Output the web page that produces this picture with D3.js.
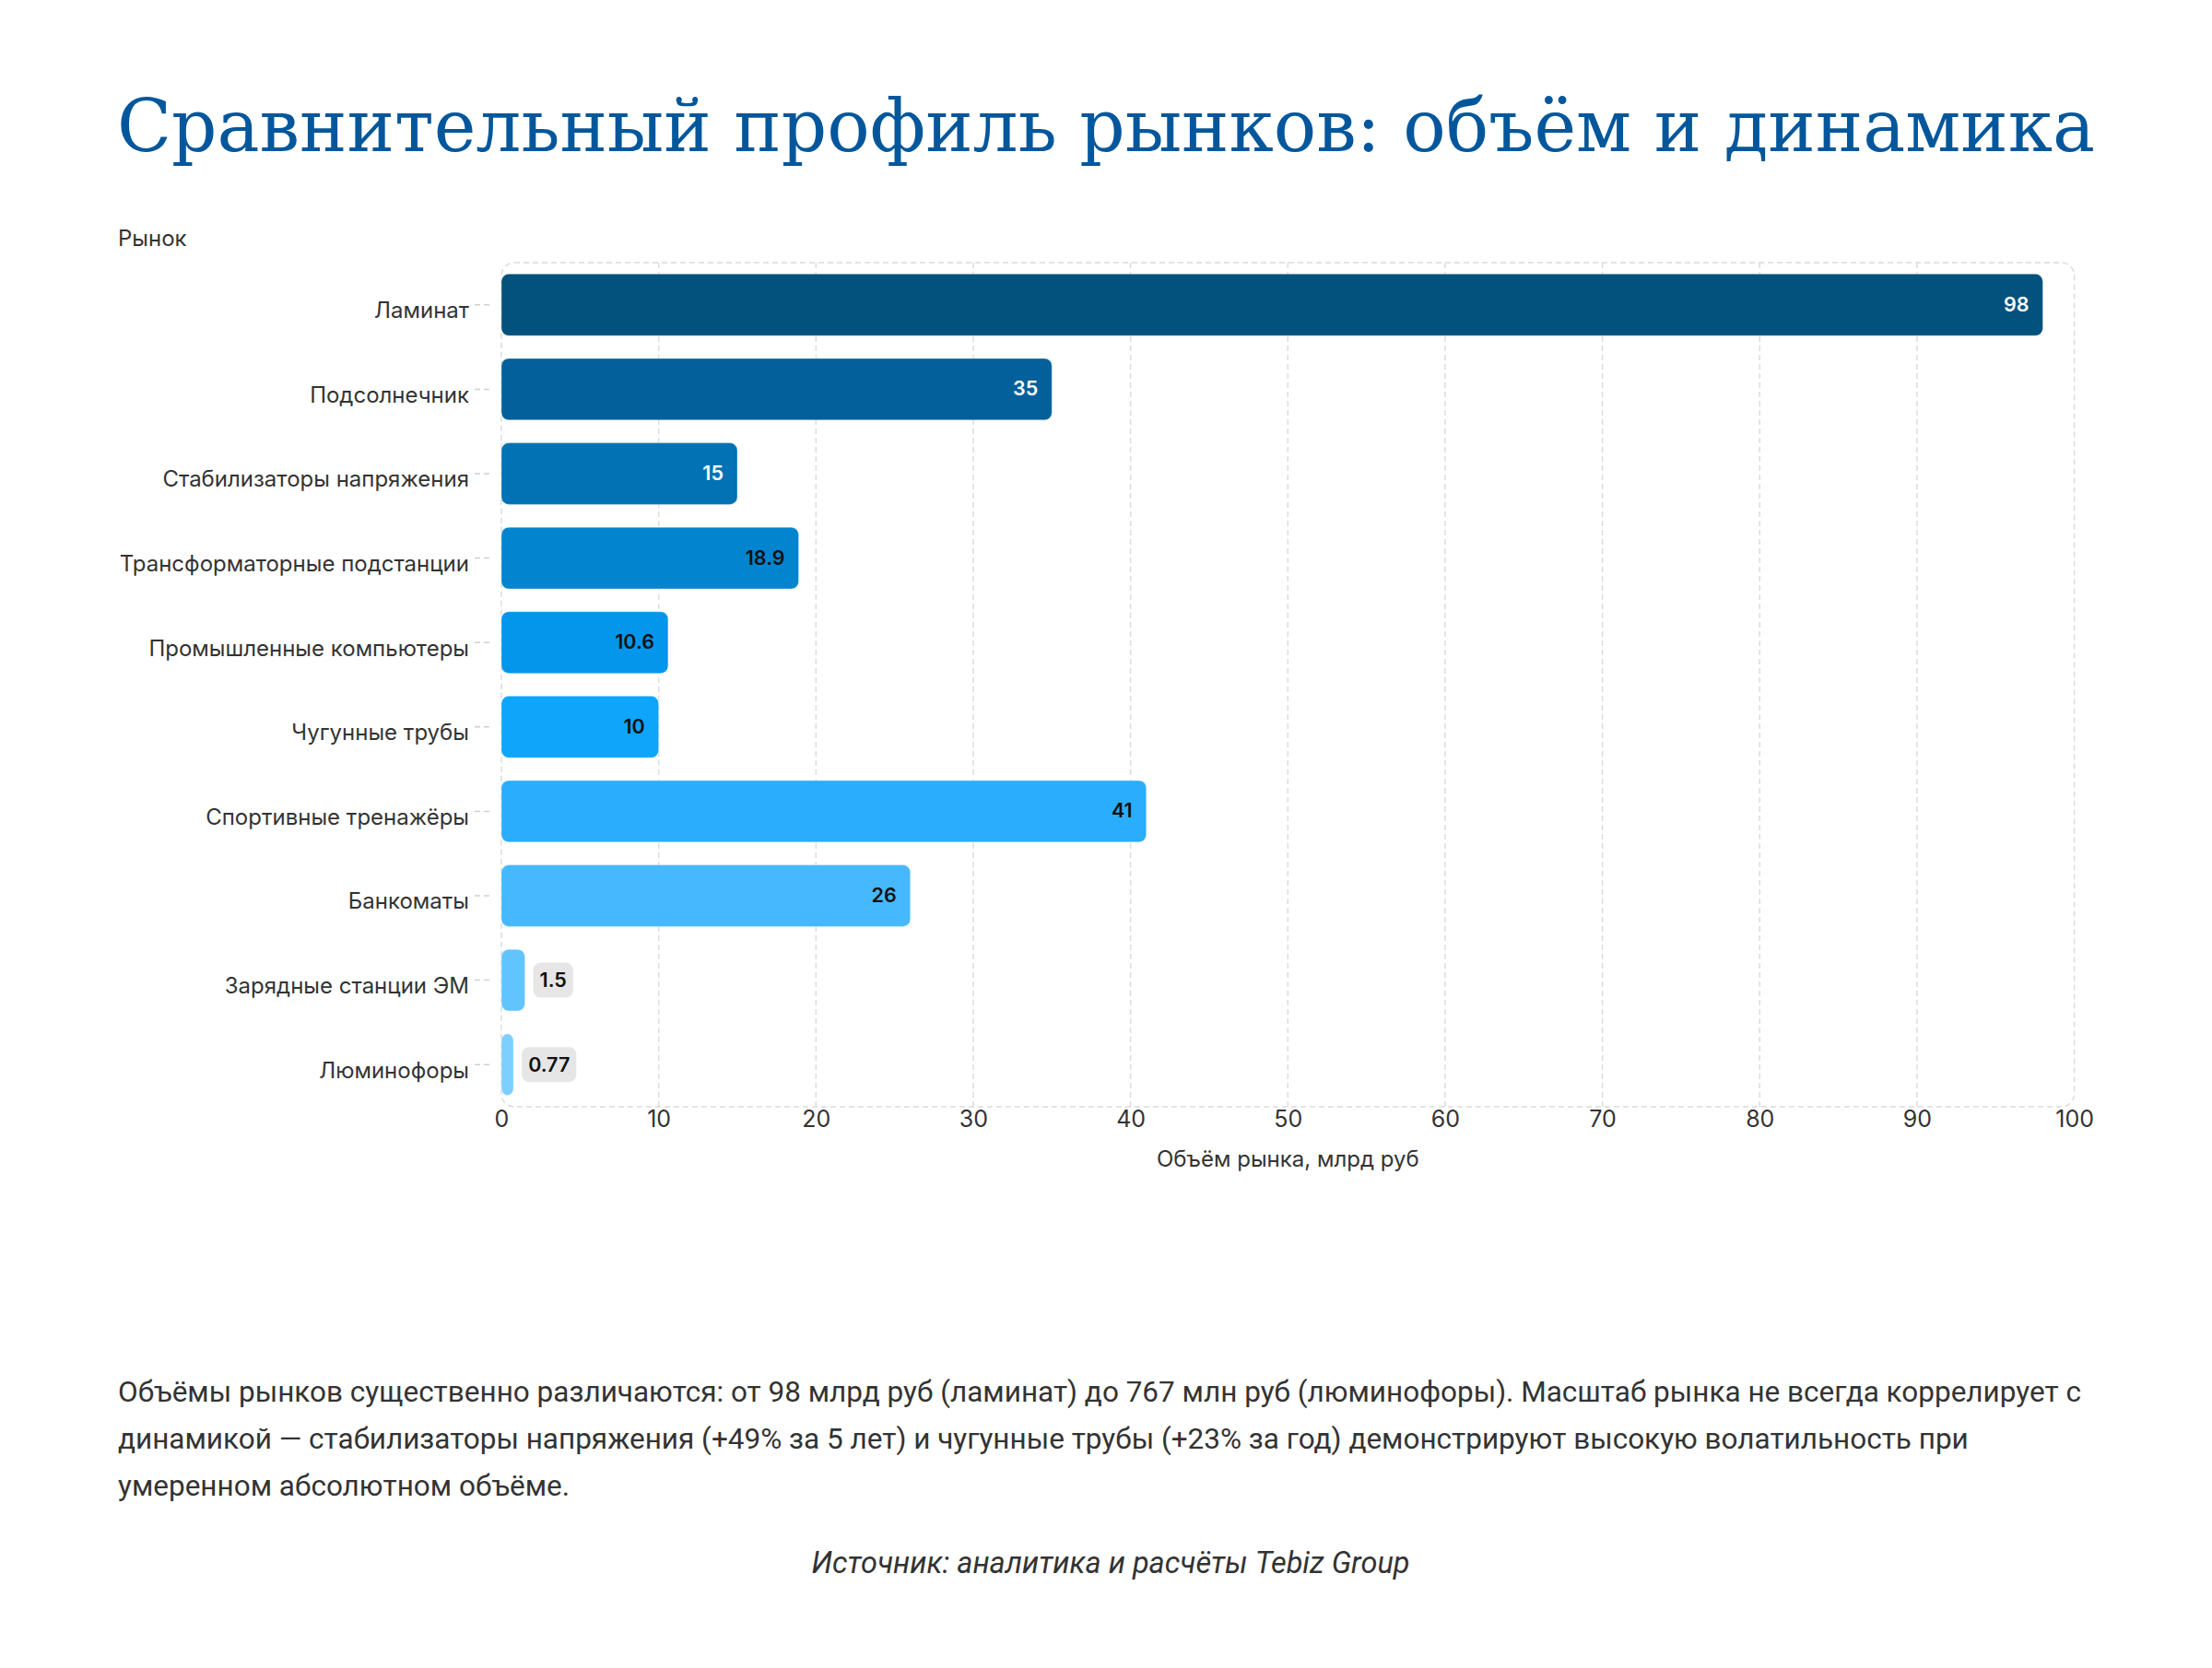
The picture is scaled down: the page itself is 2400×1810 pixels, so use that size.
<!DOCTYPE html>
<html lang="ru">
<head>
  <meta charset="UTF-8">
  <script src="https://d3js.org/d3.v7.min.js"></script>
  <style>
    body { margin: 0; background: #fff; }
  </style>
  <script>
    // data
    var markets = ['Ламинат', 'Подсолнечник', 'Стабилизаторы напряжения', 'Трансформаторные подстанции',
      'Промышленные компьютеры', 'Чугунные трубы', 'Спортивные тренажёры', 'Банкоматы',
      'Зарядные станции ЭМ', 'Люминофоры'];
    var volumes = [98, 35, 15, 18.9, 10.6, 10, 41, 26, 1.5, 0.77];
    var valueLabels = ['98', '35', '15', '18.9', '10.6', '10', '41', '26', '1.5', '0.77'];
    var xTicks = [0, 10, 20, 30, 40, 50, 60, 70, 80, 90, 100];
    var barColors = ['#03517d', '#03609a', '#0272b4', '#0384ce', '#0496ea',
      '#0ea5fb', '#2badfd', '#46b9fe', '#62c4ff', '#7dcfff'];

    var title = 'Сравнительный профиль рынков: объём и динамика';
    var noteLines = [
      'Объёмы рынков существенно различаются: от 98 млрд руб (ламинат) до 767 млн руб (люминофоры). Масштаб рынка не всегда коррелирует с',
      'динамикой — стабилизаторы напряжения (+49% за 5 лет) и чугунные трубы (+23% за год) демонстрируют высокую волатильность при',
      'умеренном абсолютном объёме.'
    ];
    var source = 'Источник: аналитика и расчёты Tebiz Group';

    function draw() {
      var svg = d3.select('#chart');
      var left = 544, right = 2250.6, top = 285, bottom = 1201;
      var sans = 'Inter, "Noto Sans", sans-serif';

      var x = d3.scaleLinear().domain([0, 100]).range([left, right]);
      var y = d3.scaleBand().domain(markets).range([top, bottom])
        .paddingInner(0.27).paddingOuter(0.135);

      // title
      svg.append('text')
        .attr('x', 127).attr('y', 164)
        .attr('font-family', '"Roboto Slab", "DejaVu Serif", serif')
        .attr('font-size', 78)
        .attr('fill', '#02579c')
        .attr('textLength', 2146).attr('lengthAdjust', 'spacingAndGlyphs')
        .text(title);

      svg.append('text')
        .attr('x', 128).attr('y', 267)
        .attr('font-family', sans).attr('font-size', 24).attr('fill', '#333')
        .text('Рынок');

      // grid and frame
      svg.append('g').selectAll('line')
        .data(xTicks.slice(1, -1))
        .join('line')
        .attr('x1', d => x(d)).attr('x2', d => x(d))
        .attr('y1', top).attr('y2', bottom)
        .attr('stroke', '#dcdcdc').attr('stroke-width', 1.5)
        .attr('stroke-dasharray', '6,4');

      svg.append('rect')
        .attr('x', left).attr('y', top)
        .attr('width', right - left).attr('height', bottom - top)
        .attr('rx', 14)
        .attr('fill', 'none')
        .attr('stroke', '#dcdcdc').attr('stroke-width', 1.5)
        .attr('stroke-dasharray', '6,4');

      // x axis
      var xAxis = svg.append('g')
        .attr('transform', 'translate(0,' + bottom + ')')
        .call(d3.axisBottom(x).tickValues(xTicks).tickSize(0).tickPadding(4));
      xAxis.select('.domain').remove();
      xAxis.selectAll('text')
        .attr('font-family', sans).attr('font-size', 25).attr('fill', '#333');

      svg.append('text')
        .attr('x', (left + right) / 2).attr('y', 1266)
        .attr('text-anchor', 'middle')
        .attr('font-family', sans).attr('font-size', 24).attr('fill', '#333')
        .text('Объём рынка, млрд руб');

      // y axis
      var yAxis = svg.append('g')
        .attr('transform', 'translate(' + (left - 13) + ',0)')
        .call(d3.axisLeft(y).tickSize(16).tickPadding(6));
      yAxis.select('.domain').remove();
      yAxis.selectAll('.tick line')
        .attr('stroke', '#d0d0d0').attr('stroke-width', 1.5)
        .attr('stroke-dasharray', '6,4');
      yAxis.selectAll('.tick text')
        .attr('font-family', sans).attr('font-size', 24).attr('fill', '#333')
        .attr('dy', '0.6em');

      // bars
      var rows = markets.map((m, i) => ({ name: m, value: volumes[i], label: valueLabels[i], color: barColors[i] }));

      svg.append('g').selectAll('rect')
        .data(rows)
        .join('rect')
        .attr('x', x(0))
        .attr('y', d => y(d.name))
        .attr('width', d => x(d.value) - x(0))
        .attr('height', y.bandwidth())
        .attr('rx', 8)
        .attr('fill', d => d.color)
        .attr('stroke', 'rgba(255,255,255,0.35)').attr('stroke-width', 1);

      var labels = svg.append('g');
      rows.forEach(function(d) {
        var w = x(d.value) - x(0);
        var cy = y(d.name) + y.bandwidth() / 2;
        if (w > 60) {
          labels.append('text')
            .attr('x', x(d.value) - 15).attr('y', cy)
            .attr('dy', '0.33em')
            .attr('text-anchor', 'end')
            .attr('font-family', sans).attr('font-size', 21.5).attr('font-weight', 600)
            .attr('fill', d3.lab(d.color).l < 50 ? '#fff' : '#111')
            .text(d.label);
        } else {
          var g = labels.append('g');
          var t = g.append('text')
            .attr('x', x(d.value) + 16).attr('y', cy)
            .attr('dy', '0.36em')
            .attr('font-family', sans).attr('font-size', 21.5).attr('font-weight', 600)
            .attr('fill', '#111')
            .text(d.label);
          var bb = t.node().getBBox();
          g.insert('rect', 'text')
            .attr('x', x(d.value) + 9).attr('y', cy - 19)
            .attr('width', bb.width + 14).attr('height', 38)
            .attr('rx', 8)
            .attr('fill', '#e6e6e6');
        }
      });

      // note
      svg.append('g').selectAll('text')
        .data(noteLines)
        .join('text')
        .attr('x', 128).attr('y', (d, i) => 1521 + i * 51)
        .attr('font-family', 'Roboto, sans-serif').attr('font-size', 31.5).attr('fill', '#333')
        .text(d => d);

      svg.append('text')
        .attr('x', 1205).attr('y', 1707)
        .attr('text-anchor', 'middle')
        .attr('font-family', 'Roboto, sans-serif').attr('font-size', 32.5)
        .attr('font-style', 'italic').attr('fill', '#333')
        .text(source);
    }
  </script>
  <title>Сравнительный профиль рынков</title>
</head>
<body onload="draw()">
  <svg id="chart" width="2400" height="1810"></svg>
</body>
</html>
